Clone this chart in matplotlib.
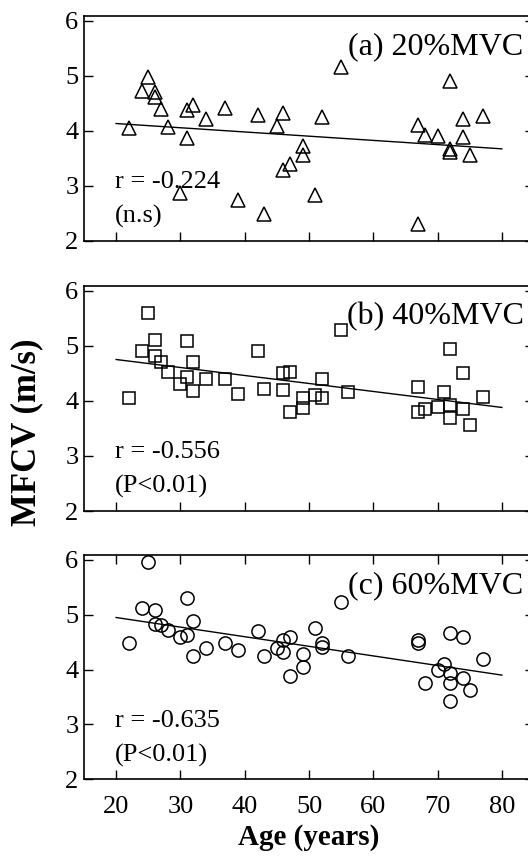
import matplotlib
matplotlib.use("Agg")
import matplotlib.pyplot as plt

plt.rcParams['font.family'] = ['Liberation Serif', 'DejaVu Serif']

# ---- data ----
age_a = [22, 24, 25, 26, 26, 27, 28, 30, 31, 31, 32, 34, 37, 39, 42, 43, 45, 46, 46,
         47, 49, 49, 51, 52, 55, 67, 67, 68, 70, 72, 72, 72, 74, 74, 75, 77]
mfcv_a = [4.04, 4.73, 4.97, 4.71, 4.61, 4.39, 4.06, 2.87, 4.38, 3.86, 4.47, 4.22, 4.41,
          2.74, 4.28, 2.48, 4.09, 4.33, 3.28, 3.39, 3.73, 3.55, 2.83, 4.24, 5.15, 4.10,
          2.30, 3.92, 3.90, 4.91, 3.67, 3.62, 4.22, 3.89, 3.55, 4.27]

age_b = [22, 24, 25, 26, 26, 27, 28, 30, 31, 31, 32, 32, 34, 37, 39, 42, 43, 46, 46, 47,
         47, 49, 49, 51, 52, 52, 55, 56, 67, 67, 68, 70, 71, 72, 72, 72, 74, 74, 75, 77]
mfcv_b = [4.05, 4.90, 5.59, 5.11, 4.81, 4.71, 4.52, 4.31, 5.08, 4.43, 4.71, 4.17, 4.40,
          4.40, 4.13, 4.90, 4.22, 4.51, 4.19, 4.52, 3.80, 4.05, 3.87, 4.11, 4.39, 4.05,
          5.29, 4.16, 4.26, 3.80, 3.85, 3.89, 4.16, 4.94, 3.92, 3.68, 4.51, 3.85, 3.57, 4.07]

age_c = [22, 24, 25, 26, 26, 27, 28, 30, 31, 31, 32, 32, 34, 37, 39, 42, 43, 45, 46, 46,
         47, 47, 49, 49, 51, 52, 52, 55, 56, 67, 67, 68, 70, 71, 72, 72, 72, 72, 74, 74,
         75, 77]
mfcv_c = [4.49, 5.12, 5.97, 5.09, 4.83, 4.81, 4.72, 4.60, 5.30, 4.63, 4.88, 4.24, 4.39,
          4.48, 4.35, 4.71, 4.25, 4.39, 4.54, 4.33, 4.60, 3.88, 4.28, 4.04, 4.75, 4.48,
          4.41, 5.23, 4.24, 4.54, 4.48, 3.76, 3.99, 4.10, 4.66, 3.93, 3.76, 3.42, 4.59,
          3.85, 3.63, 4.19]

fit_ages = [20, 80]
fit_a = [4.13, 3.67]
fit_b = [4.75, 3.88]
fit_c = [4.95, 3.90]

panel_titles = ['(a) 20%MVC', '(b) 40%MVC', '(c) 60%MVC']
r_texts = ['r = -0.224', 'r = -0.556', 'r = -0.635']
p_texts = ['(n.s)', '(P<0.01)', '(P<0.01)']
markers = ['^', 's', 'o']
marker_sizes = [10, 9, 9.5]

xticks = [20, 30, 40, 50, 60, 70, 80]
yticks = [2, 3, 4, 5, 6]

# ---- layout ----
W, H = 528, 856
fig = plt.figure(figsize=(W / 100, H / 100), dpi=100)
left = 84 / W
width = (534 - 84) / W
panels_px = [(15.7, 240.7), (285.7, 511.0), (555.0, 779.3)]

ages = [age_a, age_b, age_c]
vals = [mfcv_a, mfcv_b, mfcv_c]
fits = [fit_a, fit_b, fit_c]

for i, (top, bot) in enumerate(panels_px):
    ax = fig.add_axes([left, 1 - bot / H, width, (bot - top) / H])
    ax.plot(fit_ages, fits[i], color='black', lw=1.0, zorder=2)
    ax.plot(ages[i], vals[i], linestyle='none', marker=markers[i],
            ms=marker_sizes[i], mfc='none', mec='black', mew=1.1, zorder=3)
    ax.set_xlim(15, 85)
    ax.set_ylim(2, 6.09)
    ax.set_xticks(xticks)
    ax.set_yticks(yticks)
    for s in ax.spines.values():
        s.set_linewidth(1.2)
    ax.tick_params(axis='y', direction='in', left=True, right=True, length=6.5,
                   width=1.0, labelsize=19, pad=4)
    ax.tick_params(axis='x', direction='in', bottom=True, top=(i == 2), length=6.5,
                   width=1.0, labelsize=19, pad=12)
    if i < 2:
        ax.tick_params(axis='x', labelbottom=False)
    ax.text(0.977, 0.83, panel_titles[i], transform=ax.transAxes,
            ha='right', va='baseline', fontsize=23)
    ax.text(0.069, (2.96 - 2) / 4.09, r_texts[i], transform=ax.transAxes,
            ha='left', va='baseline', fontsize=19)
    ax.text(0.069, (2.33 - 2) / 4.09, p_texts[i], transform=ax.transAxes,
            ha='left', va='baseline', fontsize=19)
    if i == 2:
        ax.set_xlabel('Age (years)', fontsize=21, fontweight='bold', labelpad=4)

fig.text(27 / W, 1 - 432 / H, 'MFCV (m/s)', rotation=90, ha='center', va='center',
         fontsize=25, fontweight='bold')

fig.savefig('out.png', dpi=100)
